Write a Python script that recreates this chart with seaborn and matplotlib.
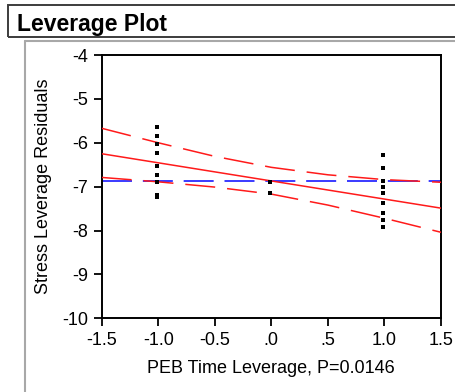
import matplotlib
matplotlib.use("Agg")
import matplotlib.pyplot as plt
import seaborn as sns
import pandas as pd
from matplotlib.lines import Line2D
from matplotlib.patches import Rectangle

# ---- data ----
pt_x = [-1.01] * 9 + [-0.01] * 2 + [0.985] * 9
pt_y = [-5.63, -5.84, -6.03, -6.23, -6.53, -6.73, -6.89, -7.19, -7.23,
        -6.90, -7.15,
        -6.29, -6.57, -6.86, -7.00, -7.15, -7.38, -7.61, -7.77, -7.93]

fit_x = [-1.5, 1.5]
fit_y = [-6.25, -7.49]

mean_x = [-1.5, 1.5]
mean_y = [-6.87, -6.87]

band_x = [-1.5, -1.0, -0.5, 0.0, 0.5, 1.0, 1.5]
band_upper = [-5.67, -6.00, -6.31, -6.56, -6.73, -6.84, -6.90]
band_lower = [-6.79, -6.89, -7.01, -7.17, -7.42, -7.72, -8.04]

xtick_vals = [-1.5, -1.0, -0.5, 0.0, 0.5, 1.0, 1.5]
xtick_labels = ["-1.5", "-1.0", "-0.5", ".0", ".5", "1.0", "1.5"]
ytick_vals = [-10, -9, -8, -7, -6, -5, -4]
ytick_labels = ["-10", "-9", "-8", "-7", "-6", "-5", "-4"]

title_text = "Leverage Plot"
xlabel_text = "PEB Time Leverage, P=0.0146"
ylabel_text = "Stress Leverage Residuals"

# ---- style ----
sns.set_style("ticks")
plt.rcParams["font.family"] = ["Liberation Sans", "DejaVu Sans"]
plt.rcParams["axes.unicode_minus"] = False
plt.rcParams["lines.scale_dashes"] = False

W, H = 455, 392
fig = plt.figure(figsize=(W / 100, H / 100), dpi=100)

def fx(px):
    return px / W

def fy(py):
    return 1 - py / H

# plot area in pixels
L, R, T, B = 101.7, 441.0, 55.0, 318.3
ax = fig.add_axes([fx(L), fy(B), (R - L) / W, (B - T) / H])

df_pts = pd.DataFrame({"x": pt_x, "y": pt_y})
df_fit = pd.DataFrame({"x": fit_x, "y": fit_y})
df_mean = pd.DataFrame({"x": mean_x, "y": mean_y})
df_up = pd.DataFrame({"x": band_x, "y": band_upper})
df_lo = pd.DataFrame({"x": band_x, "y": band_lower})

dash_blue = (0, (21.6, 7.8))
dash_red = (0, (21.6, 8.6))

sns.lineplot(data=df_mean, x="x", y="y", ax=ax, color="#3a3aff",
             linewidth=1.4, linestyle=dash_blue, estimator=None, zorder=2)
sns.lineplot(data=df_up, x="x", y="y", ax=ax, color="#ff1a1a",
             linewidth=1.1, linestyle=dash_red, estimator=None, zorder=3)
sns.lineplot(data=df_lo, x="x", y="y", ax=ax, color="#ff1a1a",
             linewidth=1.1, linestyle=dash_red, estimator=None, zorder=3)
sns.lineplot(data=df_fit, x="x", y="y", ax=ax, color="#ff1a1a",
             linewidth=1.1, estimator=None, zorder=3)
sns.scatterplot(data=df_pts, x="x", y="y", ax=ax, marker="s", s=6,
                color="black", edgecolor="black", linewidth=0, zorder=5)

ax.set_xlim(-1.5, 1.5)
ax.set_ylim(-10, -4)
ax.set_xticks(xtick_vals)
ax.set_xticklabels(xtick_labels)
ax.set_yticks(ytick_vals)
ax.set_yticklabels(ytick_labels)
ax.tick_params(axis="both", direction="out", length=6, width=1.3,
               color="black", labelsize=13, labelcolor="black", pad=4)

for sp in ax.spines.values():
    sp.set_visible(True)
    sp.set_color("black")
    sp.set_linewidth(1.4)

ax.set_xlabel(xlabel_text, fontsize=13, color="black")
ax.set_ylabel(ylabel_text, fontsize=13, color="black")
ax.xaxis.set_label_coords(0.5, -0.16)
ax.yaxis.set_label_coords((52 - L) / (R - L), 0.5)

# ---- outer frame decorations ----
fig.add_artist(Rectangle((fx(8), fy(37)), fx(470) - fx(8), fy(5) - fy(37),
                         transform=fig.transFigure, fill=False,
                         edgecolor="#3c3c3c", linewidth=1.4))
fig.add_artist(Line2D([fx(25), fx(460)], [fy(40.5), fy(40.5)],
                      transform=fig.transFigure, color="#a8a8a8", linewidth=1.5))
fig.add_artist(Line2D([fx(25), fx(25)], [fy(40.5), fy(400)],
                      transform=fig.transFigure, color="#a8a8a8", linewidth=1.5))

fig.text(fx(17), fy(30.5), title_text, fontsize=16.5, fontweight="bold",
         color="black", ha="left", va="baseline")

fig.savefig("out.png", dpi=100)
